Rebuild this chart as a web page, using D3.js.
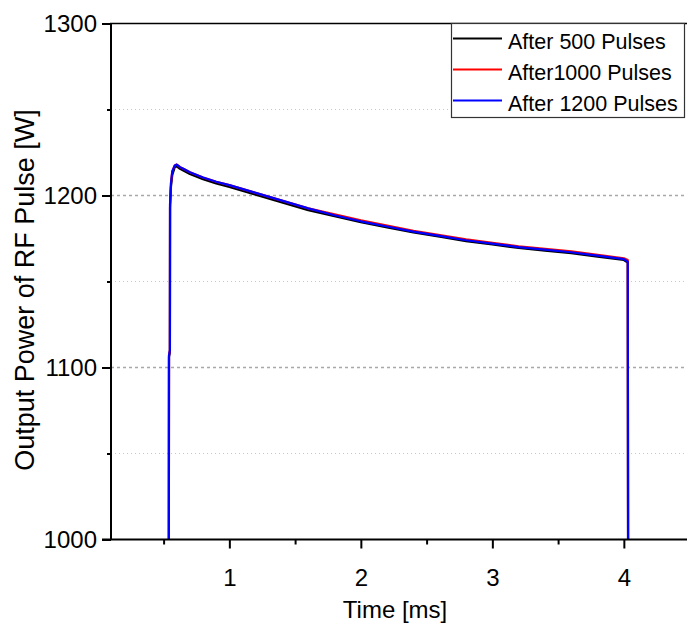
<!DOCTYPE html>
<meta charset="utf-8">
<style>
body { margin: 0; background: #fff; }
svg text { font-family: Arial, "Liberation Sans", Helvetica, sans-serif; fill: #000; }
.axis path, .axis line { stroke: #000; stroke-width: 2px; }
.axis text { font-size: 24px; font-family: Arial, "Liberation Sans", Helvetica, sans-serif; }
</style>
<svg width="687" height="627"></svg>
<script src="https://cdnjs.cloudflare.com/ajax/libs/d3/7.8.5/d3.min.js"></script>
<script>

// time axis [ms]
var timeMs = [0.540, 0.541, 0.548, 0.549, 0.556, 0.566, 0.585, 0.600, 0.625, 0.65, 0.70, 0.80, 0.90, 1.00,
              1.20, 1.40, 1.60, 1.80, 2.00, 2.20, 2.40, 2.60, 2.80, 3.00, 3.20, 3.40, 3.60, 3.80, 4.00, 4.030, 4.032];

// output power [W]
var after500  = [1000, 1106, 1109, 1193, 1205, 1212, 1216.5, 1217, 1215.5, 1214.5, 1212.5, 1209.5, 1207, 1205,
                 1200.5, 1196, 1191.5, 1188, 1184.5, 1181.5, 1178.5, 1176, 1173.5, 1171.5, 1169.5, 1168, 1166.5, 1164.5, 1162.5, 1161, 1000];
var after1000 = [1000, 1107, 1110, 1195, 1207, 1214, 1217.5, 1218, 1216.5, 1215.5, 1213.5, 1210.5, 1208, 1206,
                 1201.5, 1197, 1192.5, 1189, 1185.5, 1182.5, 1179.5, 1177, 1174.5, 1172.5, 1170.5, 1169, 1167.5, 1165.5, 1163.5, 1162.5, 1000];
var after1200 = [1000, 1107, 1110, 1195, 1207, 1214, 1217.5, 1218, 1216.5, 1215.5, 1213.5, 1210.5, 1208, 1206,
                 1201.5, 1197, 1192.5, 1188.5, 1185, 1182, 1179, 1176.5, 1174, 1172, 1170, 1168.5, 1167, 1165, 1163, 1161.5, 1000];

var seriesNames = ["After 500 Pulses", "After1000 Pulses", "After 1200 Pulses"];
var seriesColors = ["#000000", "#ff0000", "#0000ff"];
var seriesValues = [after500, after1000, after1200];

var yMajor = [1000, 1100, 1200, 1300],
    yMinor = [1050, 1150, 1250],
    xMajor = [1, 2, 3, 4],
    xMinor = [0.5, 1.5, 2.5, 3.5];

var svg = d3.select("svg");

var x = d3.scaleLinear().domain([0.1, 4.5]).range([111, 689.6]);
var y = d3.scaleLinear().domain([1000, 1300]).range([539.5, 23.5]);

// grid
svg.selectAll(".gmin").data(yMinor).enter().append("line")
    .attr("x1", 111).attr("x2", 687)
    .attr("y1", function(d) { return y(d); }).attr("y2", function(d) { return y(d); })
    .style("stroke", "#c8c8c8").style("stroke-width", 1).style("stroke-dasharray", "1,3");

svg.selectAll(".gmaj").data([1100, 1200]).enter().append("line")
    .attr("x1", 111).attr("x2", 687)
    .attr("y1", function(d) { return y(d); }).attr("y2", function(d) { return y(d); })
    .style("stroke", "#a8a8a8").style("stroke-width", 1.5).style("stroke-dasharray", "3,3");

svg.append("clipPath").attr("id", "clip").append("rect")
    .attr("x", 111).attr("y", 23).attr("width", 580).attr("height", 517);

var line = d3.line()
    .x(function(d, i) { return x(timeMs[i]); })
    .y(function(d) { return y(d); });

svg.append("g").attr("clip-path", "url(#clip)")
  .selectAll("path").data(seriesValues).enter().append("path")
    .attr("d", line)
    .style("fill", "none")
    .style("stroke", function(d, i) { return seriesColors[i]; })
    .style("stroke-width", 2.2)
    .style("stroke-linejoin", "round");

// axes
var fmt = d3.format("d");

svg.append("g").attr("class", "axis")
    .attr("transform", "translate(0,539.5)")
    .call(d3.axisBottom(x).tickValues(xMinor).tickSize(5).tickFormat("").tickSizeOuter(0))
    .select(".domain").remove();
svg.append("g").attr("class", "axis")
    .attr("transform", "translate(0,539.5)")
    .call(d3.axisBottom(x).tickValues(xMajor).tickSize(9).tickPadding(20).tickFormat(fmt).tickSizeOuter(0))
    .select(".domain").remove();

svg.append("g").attr("class", "axis")
    .attr("transform", "translate(111,0)")
    .call(d3.axisLeft(y).tickValues(yMinor).tickSize(4).tickFormat("").tickSizeOuter(0))
    .select(".domain").remove();
svg.append("g").attr("class", "axis")
    .attr("transform", "translate(111,0)")
    .call(d3.axisLeft(y).tickValues(yMajor).tickSize(9).tickPadding(5).tickFormat(fmt).tickSizeOuter(0))
    .select(".domain").remove();

svg.selectAll(".axis").attr("font-family", null);

svg.append("line").attr("x1", 102).attr("x2", 687).attr("y1", 539.5).attr("y2", 539.5)
    .style("stroke", "#000").style("stroke-width", 2);
svg.append("line").attr("x1", 111).attr("x2", 111).attr("y1", 23.5).attr("y2", 540)
    .style("stroke", "#000").style("stroke-width", 2);
svg.append("line").attr("x1", 110).attr("x2", 687).attr("y1", 23.5).attr("y2", 23.5)
    .style("stroke", "#000").style("stroke-width", 1.5);

// labels
svg.append("text").attr("x", 395).attr("y", 618).attr("text-anchor", "middle")
    .style("font-size", "24px").text("Time [ms]");
svg.append("text").attr("transform", "translate(34,290) rotate(-90)").attr("text-anchor", "middle")
    .style("font-size", "27px").text("Output Power of RF Pulse [W]");

// legend
var legend = svg.append("g").attr("transform", "translate(451,23)");
legend.append("rect").attr("x", 0.5).attr("y", 0.5).attr("width", 233).attr("height", 94)
    .style("fill", "#fff").style("stroke", "#333").style("stroke-width", 1.2);

var item = legend.selectAll(".item").data(seriesNames).enter().append("g")
    .attr("transform", function(d, i) { return "translate(0," + (15.5 + i * 31) + ")"; });
item.append("line").attr("x1", 2).attr("x2", 51).attr("y1", 0).attr("y2", 0)
    .style("stroke", function(d, i) { return seriesColors[i]; }).style("stroke-width", 2);
item.append("text").attr("x", 57).attr("y", 10).style("font-size", "21.5px")
    .text(function(d) { return d; });

</script>
